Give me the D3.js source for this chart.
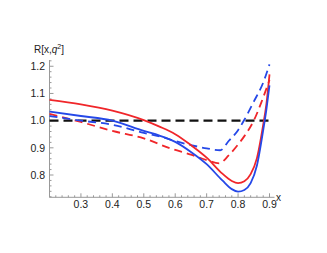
<!DOCTYPE html>
<html>
<head>
<meta charset="utf-8">
<script src="https://cdn.jsdelivr.net/npm/d3@7"></script>
<style>
  body { margin: 0; background: #fff; }
  text { font-family: "Liberation Sans", Arial, sans-serif; }
</style>
</head>
<body>
<div id="chart"></div>
<script>
// chart size
var width = 327, height = 253;

// tick labels
var xTicks = [0.3, 0.4, 0.5, 0.6, 0.7, 0.8, 0.9];
var yTicks = [0.8, 0.9, 1.0, 1.1, 1.2];

// series as [x, R]
var redSolid = [[0.2, 1.076], [0.3, 1.060], [0.4, 1.037], [0.5, 1.002], [0.55, 0.978], [0.6, 0.950],
  [0.65, 0.910], [0.7, 0.864], [0.75, 0.805], [0.78, 0.778], [0.8, 0.770], [0.82, 0.777],
  [0.84, 0.803], [0.86, 0.862], [0.88, 0.985], [0.89, 1.06], [0.9, 1.17]];
var blueSolid = [[0.2, 1.033], [0.3, 1.017], [0.4, 1.000], [0.5, 0.962], [0.55, 0.945], [0.6, 0.922],
  [0.65, 0.885], [0.7, 0.840], [0.75, 0.780], [0.78, 0.748], [0.8, 0.739], [0.82, 0.745],
  [0.84, 0.770], [0.86, 0.835], [0.88, 0.965], [0.89, 1.04], [0.9, 1.13]];
var blueDashed = [[0.2, 1.017], [0.3, 1.000], [0.4, 0.985], [0.5, 0.955], [0.55, 0.942], [0.6, 0.925],
  [0.65, 0.910], [0.7, 0.898], [0.743, 0.891], [0.77, 0.925], [0.8, 0.965], [0.82, 1.003],
  [0.85, 1.07], [0.88, 1.14], [0.9, 1.207]];
var redDashed = [[0.2, 1.025], [0.3, 0.995], [0.4, 0.962], [0.5, 0.935], [0.584, 0.898], [0.65, 0.875],
  [0.7, 0.855], [0.74, 0.843], [0.77, 0.872], [0.8, 0.912], [0.82, 0.943], [0.85, 1.0],
  [0.875, 1.07], [0.9, 1.15]];
var unity = [[0.2, 1.0], [0.9, 1.0]];

var svg = d3.select("#chart").append("svg")
  .attr("width", width)
  .attr("height", height);

var x = d3.scaleLinear().domain([0.2, 0.9]).range([49.5, 269.5]);
var y = d3.scaleLinear().domain([0.718, 1.223]).range([197.3, 60]);

var axisColor = "#999";

// axes lines
svg.append("line")
  .attr("x1", x(0.2)).attr("x2", x(0.916))
  .attr("y1", y(0.718)).attr("y2", y(0.718))
  .style("stroke", axisColor).style("stroke-width", 1);
svg.append("line")
  .attr("x1", x(0.2)).attr("x2", x(0.2))
  .attr("y1", y(0.718)).attr("y2", y(1.223))
  .style("stroke", axisColor).style("stroke-width", 1);

// x ticks, pointing into the plot
var xMinor = d3.range(0.2, 0.9001, 0.02);
svg.selectAll(".xtick")
  .data(xMinor)
  .enter()
  .append("line")
  .attr("x1", function (d) { return x(d); })
  .attr("x2", function (d) { return x(d); })
  .attr("y1", y(0.718))
  .attr("y2", function (d, i) { return y(0.718) - (i % 5 == 0 ? 4 : 2); })
  .style("stroke", axisColor);

var yMinor = d3.range(0.72, 1.2201, 0.02);
svg.selectAll(".ytick")
  .data(yMinor)
  .enter()
  .append("line")
  .attr("y1", function (d) { return y(d); })
  .attr("y2", function (d) { return y(d); })
  .attr("x1", x(0.2))
  .attr("x2", function (d) { return x(0.2) + (Math.abs((d * 10) - Math.round(d * 10)) < 0.01 ? 4 : 2); })
  .style("stroke", axisColor);

svg.selectAll(".xlabel")
  .data(xTicks)
  .enter()
  .append("text")
  .attr("x", function (d) { return x(d); })
  .attr("y", 208)
  .attr("text-anchor", "middle")
  .style("font-size", "10.5px")
  .style("fill", "#222")
  .text(function (d) { return d.toFixed(1); });

svg.selectAll(".ylabel")
  .data(yTicks)
  .enter()
  .append("text")
  .attr("x", 45)
  .attr("y", function (d) { return y(d) + 3.8; })
  .attr("text-anchor", "end")
  .style("font-size", "10.5px")
  .style("fill", "#222")
  .text(function (d) { return d.toFixed(1); });

// axis titles
var ttl = svg.append("text")
  .attr("x", 34).attr("y", 53)
  .style("font-size", "10px")
  .style("fill", "#222");
ttl.append("tspan").text("R[x,");
ttl.append("tspan").style("font-style", "italic").text("q");
ttl.append("tspan").attr("dy", -4).style("font-size", "7px").text("2");
ttl.append("tspan").attr("dy", 4).text("]");

svg.append("text")
  .attr("x", 276).attr("y", 201)
  .style("font-size", "10px")
  .style("fill", "#222")
  .text("x");

// curves
var line = d3.line()
  .x(function (d) { return x(d[0]); })
  .y(function (d) { return y(d[1]); })
  .curve(d3.curveMonotoneX);

var series = [
  { data: unity, color: "#111", dash: "9,5", w: 2.2 },
  { data: redDashed, color: "#f0262a", dash: "8,5", w: 1.8 },
  { data: blueDashed, color: "#2548e8", dash: "8,5", w: 1.8 },
  { data: redSolid, color: "#f0262a", dash: null, w: 1.8 },
  { data: blueSolid, color: "#2548e8", dash: null, w: 1.8 }
];

svg.selectAll(".curve")
  .data(series)
  .enter()
  .append("path")
  .attr("d", function (d) { return line(d.data); })
  .style("fill", "none")
  .style("stroke", function (d) { return d.color; })
  .style("stroke-width", function (d) { return d.w; })
  .style("stroke-dasharray", function (d) { return d.dash; });
</script>
</body>
</html>
